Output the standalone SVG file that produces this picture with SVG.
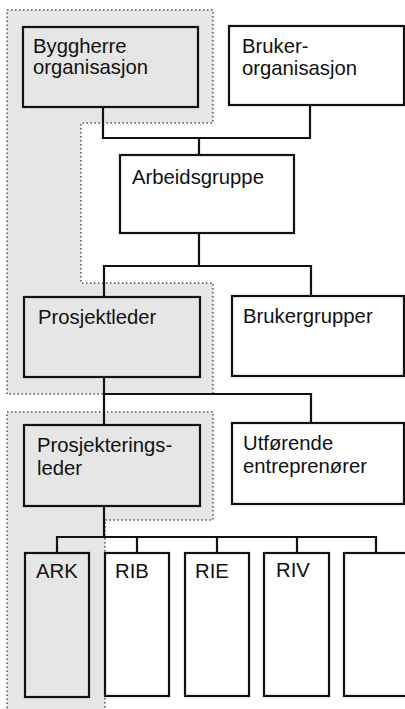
<svg xmlns="http://www.w3.org/2000/svg" width="405" height="709" viewBox="0 0 405 709">
  <style>
    .zone { fill: #e6e6e6; stroke: #7a7a7a; stroke-width: 2; stroke-dasharray: 1.5 2.5; }
    .box { stroke: #111; stroke-width: 2.2; fill: #fff; }
    .box.own { fill: #e6e6e6; }
    .lbl { font-family: "Liberation Sans", Arial, sans-serif; font-size: 20.3px; fill: #111; }
    .wire { fill: none; stroke: #111; stroke-width: 2.2; }
  </style>
  <rect width="405" height="709" fill="#fff"/>

  <!-- shaded client-side zones -->
  <g id="zones">
    <path class="zone" d="M7,10 H213 V123 H81 V283 H213 V394 H7 Z"/>
    <path class="zone" d="M7,412 H213 V520 H105 V712 H7 Z"/>
  </g>

  <!-- connectors -->
  <g id="connectors">
    <path class="wire" d="M103,107 V138 H310 V105"/>
    <path class="wire" d="M199,138 V155"/>
    <path class="wire" d="M199,233 V266"/>
    <path class="wire" d="M104,297 V266 H311 V296"/>
    <path class="wire" d="M104,377 V425"/>
    <path class="wire" d="M104,394 H311 V423"/>
    <path class="wire" d="M104,506 V537"/>
    <path class="wire" d="M57,553 V537 H376 V553"/>
    <path class="wire" d="M137,537 V553"/>
    <path class="wire" d="M217,537 V553"/>
    <path class="wire" d="M297,537 V553"/>
  </g>

  <g id="byggherre">
    <rect class="box own" x="23" y="27" width="175" height="80"/>
    <text class="lbl" x="33" y="53">Byggherre</text>
    <text class="lbl" x="33" y="74">organisasjon</text>
  </g>
  <g id="bruker">
    <rect class="box" x="229" y="26" width="175" height="79"/>
    <text class="lbl" x="242" y="53">Bruker-</text>
    <text class="lbl" x="242" y="75">organisasjon</text>
  </g>
  <g id="arbeidsgruppe">
    <rect class="box" x="120" y="155" width="174" height="78"/>
    <text class="lbl" x="132" y="184">Arbeidsgruppe</text>
  </g>
  <g id="prosjektleder">
    <rect class="box own" x="24" y="297" width="176" height="80"/>
    <text class="lbl" x="38" y="324">Prosjektleder</text>
  </g>
  <g id="brukergrupper">
    <rect class="box" x="232" y="296" width="172" height="80"/>
    <text class="lbl" x="243" y="323">Brukergrupper</text>
  </g>
  <g id="prosjekteringsleder">
    <rect class="box own" x="24" y="425" width="176" height="81"/>
    <text class="lbl" x="37" y="452">Prosjekterings-</text>
    <text class="lbl" x="37" y="475">leder</text>
  </g>
  <g id="utforende">
    <rect class="box" x="232" y="423" width="172" height="81"/>
    <text class="lbl" x="243" y="450">Utførende</text>
    <text class="lbl" x="243" y="473">entreprenører</text>
  </g>
  <g id="ark">
    <rect class="box own" x="25" y="553" width="64" height="144"/>
    <text class="lbl" x="36" y="578">ARK</text>
  </g>
  <g id="rib">
    <rect class="box" x="105" y="553" width="64" height="143"/>
    <text class="lbl" x="115" y="578">RIB</text>
  </g>
  <g id="rie">
    <rect class="box" x="185" y="553" width="64" height="143"/>
    <text class="lbl" x="195" y="578">RIE</text>
  </g>
  <g id="riv">
    <rect class="box" x="264" y="553" width="65" height="143"/>
    <text class="lbl" x="276" y="577">RIV</text>
  </g>
  <g id="blank">
    <rect class="box" x="344" y="553" width="70" height="143"/>
  </g>
</svg>
